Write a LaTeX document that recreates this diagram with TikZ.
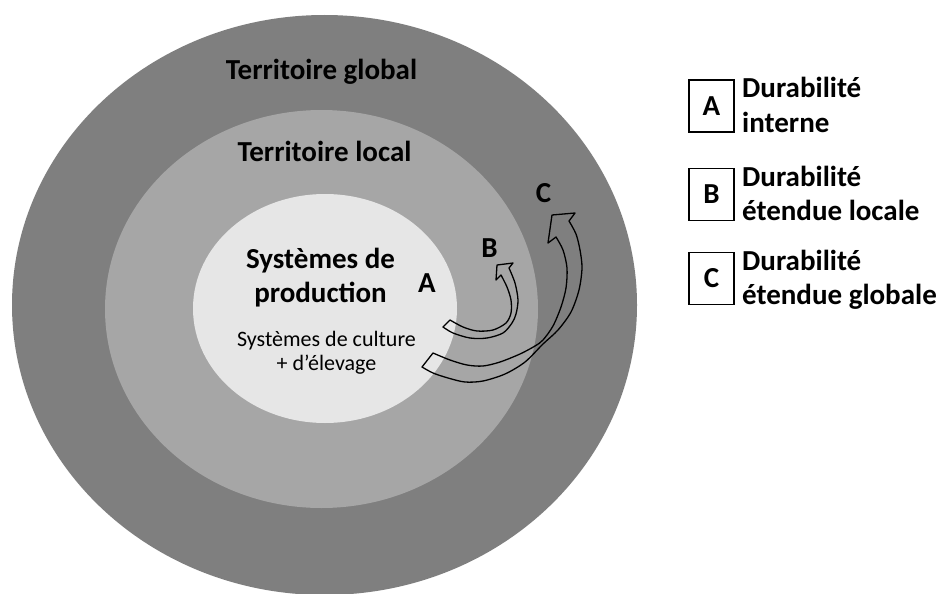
\documentclass[tikz,border=0pt]{standalone}
\usepackage{fontspec}
\setmainfont{Carlito}
\usetikzlibrary{shapes.geometric}

\definecolor{globgray}{HTML}{7F7F7F}
\definecolor{locgray}{HTML}{A6A6A6}
\definecolor{prodgray}{HTML}{E6E6E6}

\begin{document}
\begin{tikzpicture}[x=1pt, y=-1pt]
      \tikzset{zone/.style={ellipse, draw=none, inner sep=0pt},
               lbl/.style={font=\fontsize{29}{34}\selectfont\bfseries, anchor=base, inner sep=0pt},
               sml/.style={font=\fontsize{22}{25}\selectfont, anchor=base, inner sep=0pt},
               legbox/.style={draw, line width=1.2pt, minimum width=45, minimum height=52, inner sep=0pt,
                              font=\fontsize{29}{34}\selectfont\bfseries},
               blockarr/.style={draw=black, line width=1.3pt, line join=round}}

      \fill[white] (0,0) rectangle (940,594);
      \useasboundingbox (0,0) rectangle (940,594);

      % les trois territoires
      \node[zone, fill=globgray, minimum width=625, minimum height=580] (glob) at (324.5,305) {};
      \node[zone, fill=locgray, minimum width=433, minimum height=398] (loc) at (321.5,309) {};
      \node[zone, fill=prodgray, minimum width=264, minimum height=229] (prod) at (325,308.5) {};

      \node[lbl] (tglob) at (321.5,80) {Territoire global};
      \node[lbl] (tloc) at (324.5,161) {Territoire local};
      \node[lbl] (tprod) at (320.5,268) {Systèmes de};
      \node[lbl] (tprodb) at (320.5,302) {production};
      \node[sml] (tcult) at (326.5,346) {Systèmes de culture};
      \node[sml] (telev) at (326.5,370) {+ d’élevage};

      \node[lbl] (la) at (427,292) {A};
      \node[lbl] (lb) at (489.5,257) {B};
      \node[lbl] (lc) at (543.5,202) {C};

      % fleche B
      \draw[blockarr] plot[smooth] coordinates {(450,320) (463,327) (477,331) (493,330) (506,323)
            (511,313) (511,300) (507,287) (501,275)}
            -- (496,280) -- (497,265) -- (513,263)
            -- plot[smooth] coordinates {(509,268) (515,283) (518,300) (516,314) (512,323)
            (503,333) (487,338) (470,338) (453,333) (443,327)} -- cycle;

      % fleche C
      \draw[blockarr] plot[smooth] coordinates {(433,353) (450,360) (467,365) (483,366) (500,362)
            (520,354) (535,346) (543,340) (553,326) (561,307) (566,288) (567,268) (563,250) (556,237)}
            -- (548,243) -- (552,215) -- (575,213)
            -- plot[smooth] coordinates {(569,221) (576,234) (580,250) (582,268) (579,290) (571,312)
            (558,330) (543,344) (525,362) (505,374) (483,381) (465,382) (448,378) (433,373) (422,367)} -- cycle;

      % legende
      \foreach \l/\y/\t in {A/106/interne, B/194.5/étendue locale, C/278.5/étendue globale} {
          \node[legbox] (box\l) at (711.5,\y) {\l};
          \node[lbl, anchor=base west] (dur\l) at (742,\y-8) {Durabilité};
          \node[lbl, anchor=base west] (ext\l) at (742,\y+26) {\t};
          }
\end{tikzpicture}
\end{document}
